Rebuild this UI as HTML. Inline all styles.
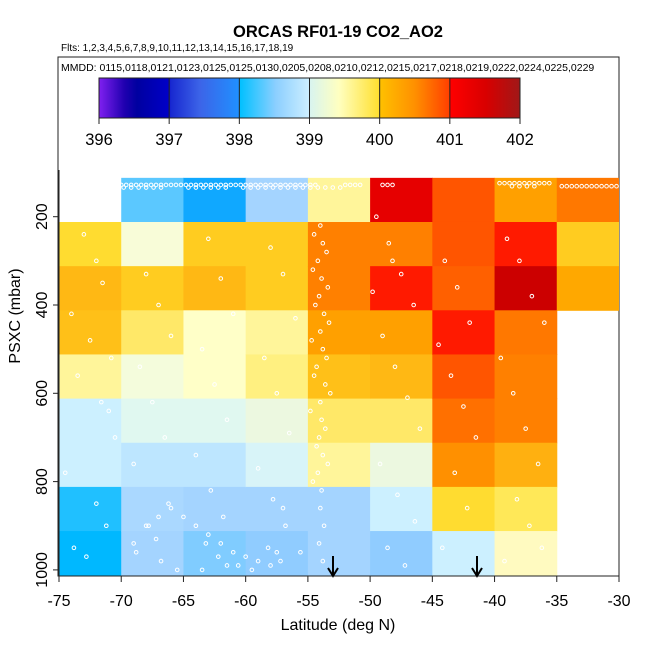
<!DOCTYPE html>
<html><head><meta charset="utf-8"><style>
html,body{margin:0;padding:0;background:#fff}
svg{display:block;font-family:"Liberation Sans",sans-serif}
</style></head><body>
<svg id="chart" width="650" height="650" viewBox="0 0 650 650" xmlns="http://www.w3.org/2000/svg">
<defs>
<linearGradient id="cb" x1="0" x2="1" y1="0" y2="0">
<stop offset="0" stop-color="#8020f0"/><stop offset="0.06" stop-color="#2000b0"/><stop offset="0.09" stop-color="#0000a0"/><stop offset="0.166" stop-color="#0000c8"/><stop offset="0.17" stop-color="#1828d0"/><stop offset="0.24" stop-color="#3c64e8"/><stop offset="0.332" stop-color="#2090ff"/><stop offset="0.334" stop-color="#00c0ff"/><stop offset="0.42" stop-color="#8ccfff"/><stop offset="0.498" stop-color="#cceeff"/><stop offset="0.5" stop-color="#d8f4f0"/><stop offset="0.57" stop-color="#ffffc0"/><stop offset="0.665" stop-color="#ffe030"/><stop offset="0.668" stop-color="#ffc000"/><stop offset="0.75" stop-color="#ff9000"/><stop offset="0.832" stop-color="#ff4000"/><stop offset="0.834" stop-color="#ff0000"/><stop offset="0.92" stop-color="#d80000"/><stop offset="1" stop-color="#a01818"/>
</linearGradient>
<clipPath id="plotclip"><rect x="59" y="57" width="560" height="519"/></clipPath>
</defs>
<text x="338" y="37" font-size="16.5" font-weight="bold" text-anchor="middle">ORCAS RF01-19 CO2_AO2</text>
<text x="61" y="51" font-size="10">Flts: 1,2,3,4,5,6,7,8,9,10,11,12,13,14,15,16,17,18,19</text>
<rect x="58" y="57" width="561" height="519" fill="none" stroke="#222" stroke-width="1"/>
<text x="61" y="71" font-size="10.5">MMDD: 0115,0118,0121,0123,0125,0125,0130,0205,0208,0210,0212,0215,0217,0218,0219,0222,0224,0225,0229</text>
<g id="cells" clip-path="url(#plotclip)"></g>
<g id="pts" clip-path="url(#plotclip)"></g>
<g>
<rect x="99" y="78" width="421" height="40" fill="url(#cb)" stroke="#222" stroke-width="1"/>
<g id="cbticks"></g>
</g>
<g id="axes"></g>
<text x="338" y="630" font-size="16" text-anchor="middle">Latitude (deg N)</text>
<text transform="translate(20,316) rotate(-90)" font-size="16" text-anchor="middle">PSXC (mbar)</text>
<g stroke="#000" stroke-width="2" fill="none"><line x1="333" y1="556" x2="333" y2="575"/><path d="M328,568 L333,576 L338,568"/></g>
<g stroke="#000" stroke-width="2" fill="none"><line x1="477" y1="556" x2="477" y2="575"/><path d="M472,568 L477,576 L482,568"/></g>
</svg>
<script>
const latEdges = [-75,-70,-65,-60,-55,-50,-45,-40,-35,-30];
const presEdges = [112,212,312,412,512,612,712,812,912,1012];
// CO2 values per latitude column (top row -> bottom row), null = no data
const colM75 = [null,399.95,400.2,400.1,399.65,398.95,398.95,398.05,398.0];
const colM70 = [398.3,399.3,400.05,399.8,399.2,399.05,398.8,398.65,398.6];
const colM65 = [397.99,400.05,400.2,399.4,399.4,399.05,398.8,398.6,398.4];
const colM60 = [398.6,400.05,400.05,399.65,399.7,399.1,399.0,398.6,398.5];
const colM55 = [399.65,400.6,400.6,400.4,400.1,399.8,399.65,398.6,398.6];
const colM50 = [401.4,400.6,401.0,400.4,400.2,399.8,399.1,398.95,398.5];
const colM45 = [400.9,400.9,400.85,401.0,400.9,400.75,400.5,399.95,398.95];
const colM40 = [400.4,401.0,401.7,400.7,400.6,400.6,400.25,399.85,399.45];
const colM35 = [400.7,400.05,400.3,null,null,null,null,null,null];
const columns = [colM75,colM70,colM65,colM60,colM55,colM50,colM45,colM40,colM35];
const xTicks = [-75,-70,-65,-60,-55,-50,-45,-40,-35,-30];
const yTicks = [200,400,600,800,1000];
const cbTicks = [396,397,398,399,400,401,402];
// sample observation locations: latitude and pressure
const ptLat = [-70,-69.6,-69.2,-68.8,-68.4,-68,-67.6,-67.2,-66.8,-66.4,-66,-65.6,-65.2,-64.8,-64.4,-64,-63.6,-63.2,-62.8,-62.4,-62,-61.6,-61.2,-60.8,-60.4,-60,-59.6,-59.2,-58.8,-58.4,-58,-57.6,-57.2,-56.8,-56.4,-56,-55.6,-55.2,-54.8,-54.4,-52,-51.6,-51.2,-50.8,-49,-48.6,-48.2,-39.6,-39.2,-38.8,-38.4,-38,-37.6,-37.2,-36.8,-36.4,-36,-35.6,-34.6,-34.2,-33.8,-33.4,-33,-32.6,-32.2,-31.8,-31.4,-31,-30.6,-30.2,
-69.8,-69.2,-68.6,-68,-67.4,-66.8,-64.6,-64,-63.4,-62.8,-62.2,-61.6,-60.2,-59.6,-59,-58.4,-57.8,-57.2,-56.6,-56,-55.4,-54.8,-54.2,-53.6,-53,-52.4,-38.6,-38,-37.4,-36.8,
-54,-53.8,-54.2,-53.9,-54.1,-53.7,-54,-53.8,-54.3,-53.6,-54,-53.9,-54.1,-53.8,-54.2,-53.9,-54,-53.7,-54.1,-53.8,
-54.5,-53.5,-54.6,-53.4,-54.4,-53.3,-54.7,-53.5,-54.5,-53.2,-54.8,-53.6,-54.3,-53.4,-54.6,
-73,-72,-71.5,-74,-72.5,-73.5,-71,-70.5,-74.5,-72,-71.2,-73.8,-72.8,-71.6,-70.8,
-68,-67,-66,-68.5,-67.5,-66.5,-69,-66.2,-67.8,-68.8,-66.8,-67.2,
-63,-62,-61,-63.5,-62.5,-61.5,-64,-62.8,-61.8,-63.2,-62.2,-60.6,
-58,-57,-56,-58.5,-57.5,-56.5,-59,-57.8,-56.8,-58.2,-57.2,-55.6,
-49.5,-48.5,-47.5,-46.5,-49,-48,-47,-46,-49.2,-47.8,-46.4,-48.6,-47.2,-49.8,-48.2,
-44,-43,-42,-44.5,-43.5,-42.5,-41.5,-43.2,-42.2,-44.2,
-39,-38,-37,-36,-39.5,-38.5,-37.5,-36.5,-38.2,-37.2,-36.2,-39.2,
-66,-65,-64,-63,-62,-61,-60,-59,-58,-57,-67,-68,-69,-65.5,-63.5,-61.5,-59.5,-57.5];
const ptPres = [128,128,128,128,128,128,128,128,128,128,128,128,128,128,128,128,128,128,128,128,128,128,128,128,128,128,128,128,128,128,128,128,128,128,128,128,128,128,128,128,128,128,128,128,128,128,128,124,124,124,124,124,124,124,124,124,124,124,131,131,131,131,131,131,131,131,131,131,131,131,
134,134,134,134,134,134,134,134,134,134,134,134,134,134,134,134,134,134,134,134,134,134,134,134,134,134,131,131,131,131,
220,260,300,340,380,420,460,500,540,580,620,660,700,740,780,820,860,900,940,980,
240,280,320,360,400,440,480,520,560,600,640,680,720,760,800,
240,300,350,420,480,560,640,700,780,850,900,950,970,620,520,
330,400,470,540,620,700,760,850,900,960,980,930,
250,340,420,500,580,660,740,820,880,940,970,990,
270,330,430,520,600,690,770,840,900,950,980,960,
200,260,330,400,470,540,610,680,760,830,890,950,990,370,300,
300,360,440,490,560,630,700,780,860,950,
250,300,380,440,520,600,680,760,840,900,950,980,
860,880,900,920,940,960,970,980,990,860,880,900,940,1000,1000,990,1000,960];

function X(lat){return 59 + (lat+75)*560/45;}
function Y(p){return 128.4 + p*0.4415;}
const stops=[[396,"#8020f0"],[396.4,"#00009a"],[397,"#0000c8"],[397.5,"#3070f0"],[397.97,"#2090ff"],[397.99,"#10a8ff"],[398.0,"#00b8ff"],[398.05,"#20c0ff"],[398.3,"#5bc8ff"],[398.4,"#80ccff"],[398.5,"#90ccff"],[398.6,"#a4d4ff"],[398.8,"#bde6ff"],[398.95,"#ccf0ff"],[399.0,"#d8f4f8"],[399.05,"#e0f8f0"],[399.1,"#ecf8e0"],[399.2,"#f4fcdc"],[399.3,"#f8fcd8"],[399.4,"#ffffc8"],[399.45,"#fffac0"],[399.65,"#fff59a"],[399.7,"#fff080"],[399.8,"#ffe868"],[399.85,"#ffe858"],[399.95,"#ffdc30"],[400.0,"#ffd028"],[400.05,"#ffcc20"],[400.1,"#ffc018"],[400.2,"#ffb814"],[400.25,"#ffb010"],[400.3,"#ffa800"],[400.4,"#ffa000"],[400.5,"#ff9000"],[400.6,"#ff8000"],[400.7,"#ff7800"],[400.75,"#ff7000"],[400.85,"#ff6000"],[400.9,"#ff5500"],[400.99,"#ff4000"],[401.0,"#ff1a00"],[401.4,"#e60000"],[401.7,"#cc0000"],[402,"#a01818"]];
function hx(c){return [1,3,5].map(i=>parseInt(c.substr(i,2),16));}
function color(v){
  if(v<=stops[0][0])return stops[0][1];
  for(let i=1;i<stops.length;i++){if(v<=stops[i][0]){const a=stops[i-1],b=stops[i];const t=(v-a[0])/(b[0]-a[0]);const ca=hx(a[1]),cb=hx(b[1]);return "rgb("+ca.map((x,k)=>Math.round(x+(cb[k]-x)*t)).join(",")+")";}}
  return stops[stops.length-1][1];
}
const NS="http://www.w3.org/2000/svg";
function mk(tag,attrs,parent){const e=document.createElementNS(NS,tag);for(const k in attrs)e.setAttribute(k,attrs[k]);parent.appendChild(e);return e;}
const cells=document.getElementById('cells');
columns.forEach((col,i)=>{col.forEach((v,j)=>{
  if(v===null)return;
  const x0=X(latEdges[i]),x1=X(latEdges[i+1]),y0=Y(presEdges[j]),y1=Y(presEdges[j+1]);
  const r=mk('rect',{x:x0,y:y0,width:x1-x0+0.5,height:y1-y0+0.5,fill:color(v)},cells);
  
  
});});
const pts=document.getElementById('pts');
ptLat.forEach((la,i)=>{
  const c=mk('circle',{cx:X(la),cy:Y(ptPres[i]),r:1.8,fill:'none',stroke:'#fff','stroke-width':1},pts);
  
  
});
const axes=document.getElementById('axes');
mk('line',{x1:59,y1:576,x2:619,y2:576,stroke:'#222'},axes);
mk('line',{x1:59,y1:170,x2:59,y2:576,stroke:'#222'},axes);
xTicks.forEach(t=>{
  const x=X(t);
  mk('line',{x1:x,y1:576,x2:x,y2:582,stroke:'#222'},axes);
  const tx=mk('text',{x:x,y:606,'font-size':16,'text-anchor':'middle'},axes);tx.textContent=t;
  
  
});
yTicks.forEach(t=>{
  const y=Y(t);
  mk('line',{x1:53,y1:y,x2:59,y2:y,stroke:'#222'},axes);
  const tx=mk('text',{transform:'translate(47,'+y+') rotate(-90)','font-size':16,'text-anchor':'middle'},axes);tx.textContent=t;
  
  
});
const cbt=document.getElementById('cbticks');
cbTicks.forEach(t=>{
  const x=99+(t-396)*421/6;
  mk('line',{x1:x,y1:78,x2:x,y2:124,stroke:'#222'},cbt);
  const tx=mk('text',{x:x,y:145,'font-size':16.5,'text-anchor':'middle'},cbt);tx.textContent=t;
  
  
});
</script>
</body></html>
